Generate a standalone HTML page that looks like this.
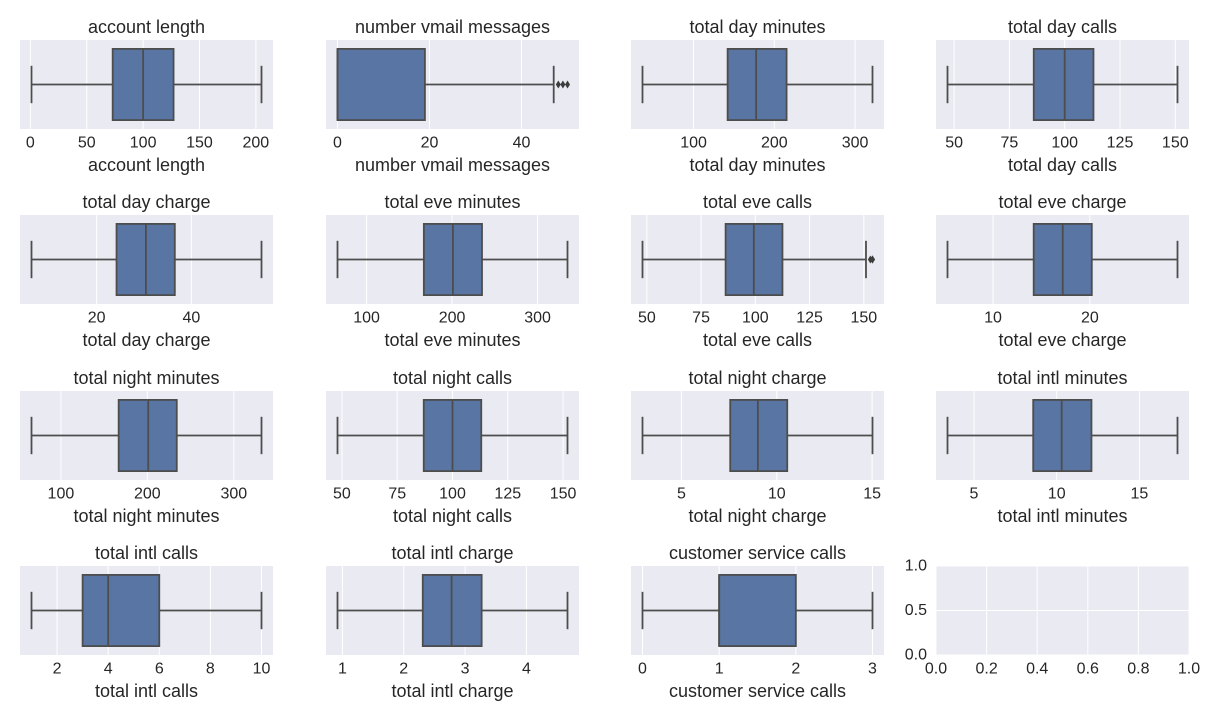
<!DOCTYPE html>
<html><head><meta charset="utf-8">
<style>
html,body{margin:0;padding:0;background:#fff;}
svg{display:block;font-family:"Liberation Sans",Arial,sans-serif;}
</style></head>
<body>
<svg id="fig" width="1224" height="720" viewBox="0 0 1224 720" xmlns="http://www.w3.org/2000/svg"></svg>
<script>
const names = ["account length","number vmail messages","total day minutes","total day calls",
"total day charge","total eve minutes","total eve calls","total eve charge",
"total night minutes","total night calls","total night charge","total intl minutes",
"total intl calls","total intl charge","customer service calls"];
const whiskLo = [1,0,36.8,47,6.25,66,48,5.3,66,48,2.96,3.4,1,0.92,0];
const q1s     = [73,0,142.2,86,24.2,167,86.3,14.2,166.8,87,7.56,8.58,3,2.31,1];
const medians = [100,0,177.5,100,30.4,201,99.3,17.2,201,100,9.01,10.3,4,2.78,1];
const q3s     = [127,19,215.2,113,36.5,235,112.5,20.2,234,113,10.55,12.1,6,3.27,2];
const whiskHi = [205,47,321.6,151,54.8,335,151,29.05,332,152,15.02,17.3,10,4.67,3];
const fliers  = [[],[48,49,50],[],[],[],[],[153,154,154],[],[],[],[],[],[],[],[]];
const ticks = [[0,50,100,150,200],[0,20,40],[100,200,300],[50,75,100,125,150],
[20,40],[100,200,300],[50,75,100,125,150],[10,20],
[100,200,300],[50,75,100,125,150],[5,10,15],[5,10,15],
[2,4,6,8,10],[1,2,3,4],[0,1,2,3]];
const emptyXTicks = ["0.0","0.2","0.4","0.6","0.8","1.0"];
const emptyYTicks = ["0.0","0.5","1.0"];

const NS="http://www.w3.org/2000/svg";
const svg=document.getElementById('fig');
const colX=[20,326,631,936], rowY=[40,215,391,566], W=253, H=89;
function mk(tag,attrs,parent){const e=document.createElementNS(NS,tag);for(const k in attrs)e.setAttribute(k,attrs[k]);(parent||svg).appendChild(e);return e;}
function txt(x,y,s,size,anchor,parent){const t=mk('text',{x:x,y:y,'font-size':size,'text-anchor':anchor||'middle',fill:'#262626','dominant-baseline':'central'},parent);t.textContent=s;return t;}

names.forEach((nm,i)=>{
  const ax=colX[i%4], ay=rowY[Math.floor(i/4)];
  const g=mk('g',{});
  
  
  const all=[whiskLo[i],whiskHi[i]].concat(fliers[i]);
  const dmin=Math.min(...all), dmax=Math.max(...all), m=(dmax-dmin)*0.05;
  const x0=dmin-m, x1=dmax+m;
  const X=v=>ax+(v-x0)/(x1-x0)*W;
  const Y=f=>ay+f*H;
  const bg=mk('rect',{x:ax,y:ay,width:W,height:H,fill:'#eaeaf2'},g);
  
  
  ticks[i].forEach(t=>{
    mk('line',{x1:X(t),x2:X(t),y1:ay,y2:ay+H,stroke:'#fff','stroke-width':1},g);
    const tl=txt(X(t),ay+H+14,String(t),16,'middle',g);
    
    
  });
  const col='#4d4d4d';
  mk('line',{x1:X(whiskLo[i]),x2:X(q1s[i]),y1:Y(0.5),y2:Y(0.5),stroke:col,'stroke-width':1.8},g);
  mk('line',{x1:X(q3s[i]),x2:X(whiskHi[i]),y1:Y(0.5),y2:Y(0.5),stroke:col,'stroke-width':1.8},g);
  mk('line',{x1:X(whiskLo[i]),x2:X(whiskLo[i]),y1:Y(0.29),y2:Y(0.71),stroke:col,'stroke-width':1.8},g);
  mk('line',{x1:X(whiskHi[i]),x2:X(whiskHi[i]),y1:Y(0.29),y2:Y(0.71),stroke:col,'stroke-width':1.8},g);
  const box=mk('rect',{x:X(q1s[i]),y:Y(0.1),width:Math.max(X(q3s[i])-X(q1s[i]),0),height:H*0.8,fill:'#5875a4',stroke:col,'stroke-width':1.8},g);
  
  
  mk('line',{x1:X(medians[i]),x2:X(medians[i]),y1:Y(0.1),y2:Y(0.9),stroke:col,'stroke-width':1.8},g);
  fliers[i].forEach(f=>{
    const p=mk('path',{d:`M${X(f)-2.5},${Y(0.5)} L${X(f)},${Y(0.5)-4} L${X(f)+2.5},${Y(0.5)} L${X(f)},${Y(0.5)+4} Z`,fill:'#3d3d3d'},g);
    
    
  });
  const t=txt(ax+W/2,ay-13,nm,18,'middle',g);
  
  
  const xl=txt(ax+W/2,ay+H+36,nm,18,'middle',g);
  
  
});

// empty subplot
(function(){
  const ax=colX[3], ay=rowY[3];
  const g=mk('g',{});
  
  
  mk('rect',{x:ax,y:ay,width:W,height:H,fill:'#eaeaf2'},g);
  emptyXTicks.forEach((s,k)=>{
    const x=ax+k/(emptyXTicks.length-1)*W;
    mk('line',{x1:x,x2:x,y1:ay,y2:ay+H,stroke:'#fff','stroke-width':1},g);
    const tl=txt(x,ay+H+14,s,16,'middle',g);
    
    
  });
  emptyYTicks.forEach((s,k)=>{
    const y=ay+H-k/(emptyYTicks.length-1)*H;
    mk('line',{x1:ax,x2:ax+W,y1:y,y2:y,stroke:'#fff','stroke-width':1},g);
    const tl=txt(ax-9,y,s,16,'end',g);
    
    
  });
})();
</script>
</body></html>
